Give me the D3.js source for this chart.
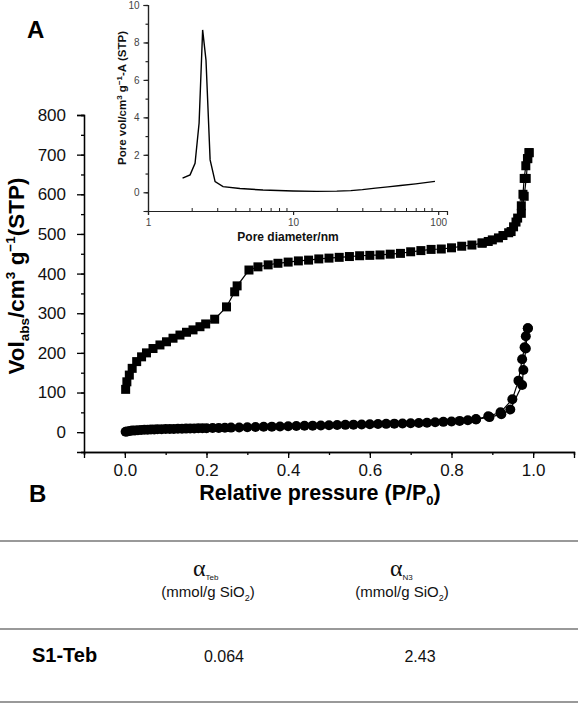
<!DOCTYPE html>
<html><head><meta charset="utf-8">
<script src="https://cdn.jsdelivr.net/npm/d3@7"></script>
<style>
html,body{margin:0;padding:0;background:#fff;}
svg{display:block;font-family:"Liberation Sans",Arial,sans-serif;}
</style></head>
<body>
<svg id="c" width="578" height="704"></svg>
<script>
// ---- Main isotherm data: [relative pressure, volume adsorbed] ----
const squaresAds = [[0.002,108],[0.005,127],[0.011,144],[0.018,161],[0.029,178],[0.041,190],[0.053,200],[0.069,211],[0.086,220],[0.102,228],[0.118,237],[0.135,245],[0.151,252],[0.167,258],[0.184,266],[0.198,273],[0.22,285],[0.249,316],[0.269,354],[0.275,369],[0.304,409],[0.326,417],[0.351,422],[0.375,426],[0.40,429],[0.425,432],[0.45,434],[0.475,437],[0.50,439],[0.525,441],[0.55,443],[0.575,445],[0.60,446],[0.625,447],[0.65,449],[0.675,451],[0.70,455],[0.725,458],[0.75,461],[0.775,462],[0.80,465],[0.825,469],[0.85,472],[0.875,477],[0.90,485],[0.926,496],[0.946,506],[0.958,530],[0.971,552],[0.978,595],[0.983,640],[0.987,690],[0.99,705]];
const squaresDes = [[0.99,705],[0.986,690],[0.982,672],[0.978,640],[0.975,600],[0.971,571],[0.962,540],[0.952,518],[0.94,503],[0.915,490],[0.89,481],[0.875,477]];
const circlesAds = [[0.002,1],[0.006,2],[0.012,3],[0.018,4],[0.025,4.5],[0.032,5],[0.04,5.5],[0.048,6],[0.056,6.3],[0.064,6.6],[0.072,7],[0.08,7.2],[0.09,7.5],[0.10,7.8],[0.11,8],[0.12,8.3],[0.13,8.5],[0.14,8.8],[0.15,9],[0.16,9.2],[0.17,9.5],[0.18,9.7],[0.19,10],[0.20,10.2],[0.215,10.5],[0.23,10.8],[0.245,11.2],[0.26,11.5],[0.28,12],[0.30,12.5],[0.32,13],[0.34,13.5],[0.36,14],[0.38,14.5],[0.40,15],[0.42,15.5],[0.44,16],[0.46,16.5],[0.48,17],[0.50,17.5],[0.52,18],[0.54,18.5],[0.56,19],[0.58,19.5],[0.60,20],[0.62,20.5],[0.64,21],[0.66,21.5],[0.68,22],[0.70,22.5],[0.72,23.2],[0.74,24],[0.76,25],[0.78,26],[0.80,27],[0.82,28.5],[0.84,30],[0.86,32],[0.893,38],[0.922,45],[0.944,57],[0.973,119],[0.976,157],[0.982,211],[0.987,262]];
const circlesDes = [[0.987,262],[0.982,242],[0.979,214],[0.973,184],[0.964,130],[0.949,83],[0.92,50],[0.89,40],[0.86,33]];
const xTicks = [0.0,0.2,0.4,0.6,0.8,1.0];
const yTicks = [0,100,200,300,400,500,600,700,800];

// ---- Inset pore size distribution ----
const poreDiameter = [1.73,1.95,2.11,2.25,2.38,2.51,2.68,2.9,3.29,4.3,6.2,10,14.5,20,25,30,37,45,55,70,95];
const poreVolume   = [0.75,0.93,1.55,3.7,8.67,7.06,1.73,0.57,0.3,0.2,0.12,0.07,0.05,0.06,0.09,0.14,0.22,0.29,0.36,0.45,0.58];
const insetXTicks = [1,10,100];
const insetYTicks = [0,2,4,6,8,10];

// ---- Table ----
const tableRowLabel = "S1-Teb";
const tableValues = ["0.064","2.43"];

const svg = d3.select("#c");

// Main scales
const x = d3.scaleLinear().domain([-0.1,1.1]).range([84,574]);
const y = d3.scaleLinear().domain([-50,800]).range([452,115]);

const gx = svg.append("g").attr("transform","translate(0,452)");
gx.call(d3.axisBottom(x).tickValues(d3.range(-0.1,1.11,0.1)).tickSize(3).tickFormat(""));
gx.append("g").call(d3.axisBottom(x).tickValues(xTicks).tickSize(6).tickPadding(6).tickFormat(d3.format(".1f")));
gx.selectAll("path.domain").attr("stroke","#000").attr("stroke-width",1.3);
gx.selectAll("line").attr("stroke","#000").attr("stroke-width",1.3);
gx.selectAll("text").attr("font-size",17).attr("fill","#111").attr("font-family","Liberation Sans, Arial");

const gy = svg.append("g").attr("transform","translate(84,0)");
gy.call(d3.axisLeft(y).tickValues(d3.range(-50,801,50)).tickSize(3).tickFormat(""));
gy.append("g").call(d3.axisLeft(y).tickValues(yTicks).tickSize(7).tickPadding(11).tickFormat(d3.format("d")));
gy.selectAll("path.domain").attr("stroke","#000").attr("stroke-width",1.3);
gy.selectAll("line").attr("stroke","#000").attr("stroke-width",1.3);
gy.selectAll("text").attr("font-size",17).attr("fill","#111").attr("font-family","Liberation Sans, Arial");

const line = d3.line().x(d=>x(d[0])).y(d=>y(d[1]));
[squaresAds,squaresDes,circlesAds,circlesDes].forEach(s=>{
  svg.append("path").attr("d",line(s)).attr("fill","none").attr("stroke","#000").attr("stroke-width",1.2);
});
const sq = 9;
svg.append("g").selectAll("rect").data(squaresAds.concat(squaresDes)).join("rect")
  .attr("x",d=>x(d[0])-sq/2).attr("y",d=>y(d[1])-sq/2).attr("width",sq).attr("height",sq).attr("fill","#000");
svg.append("g").selectAll("circle").data(circlesAds.concat(circlesDes)).join("circle")
  .attr("cx",d=>x(d[0])).attr("cy",d=>y(d[1])).attr("r",5).attr("fill","#000");

// Axis titles
const xt = svg.append("text").attr("x",320).attr("y",500).attr("text-anchor","middle")
  .attr("font-size",21.5).attr("font-weight","bold").attr("fill","#000");
xt.append("tspan").text("Relative pressure (P/P");
xt.append("tspan").text("0").attr("font-size",13).attr("dy",5);
xt.append("tspan").text(")").attr("dy",-5);

const yt = svg.append("text").attr("transform","translate(24,276) rotate(-90)").attr("text-anchor","middle")
  .attr("font-size",22.5).attr("font-weight","bold").attr("fill","#000");
yt.append("tspan").text("Vol");
yt.append("tspan").text("abs").attr("font-size",13.5).attr("dy",5);
yt.append("tspan").text("/cm").attr("dy",-5);
yt.append("tspan").text("3").attr("font-size",13.5).attr("dy",-9);
yt.append("tspan").text(" g").attr("dy",9);
yt.append("tspan").text("−1").attr("font-size",13.5).attr("dy",-9);
yt.append("tspan").text("(STP)").attr("dy",9);

// Panel labels
svg.append("text").attr("x",27).attr("y",38).text("A").attr("font-size",24).attr("font-weight","bold");
svg.append("text").attr("x",29).attr("y",502).text("B").attr("font-size",24).attr("font-weight","bold");

// ---- Inset ----
const xi = d3.scaleLog().domain([1,115]).range([148,447]);
const yi = d3.scaleLinear().domain([-1,10]).range([211,5]);
const minorLog = [2,3,4,5,6,7,8,9,20,30,40,50,60,70,80,90];
const gix = svg.append("g").attr("transform","translate(0,211)");
gix.call(d3.axisTop(xi).tickValues(minorLog).tickSize(3).tickFormat(""));
gix.selectAll("path.domain").remove();
const gix2 = svg.append("g").attr("transform","translate(0,211)");
gix2.call(d3.axisBottom(xi).tickValues(insetXTicks).tickSize(4).tickPadding(4).tickFormat(d3.format("d")));
gix.selectAll("line").attr("stroke","#222");
gix2.selectAll("path.domain,line").attr("stroke","#222").attr("stroke-width",1.2);
gix2.selectAll("text").attr("font-size",10).attr("fill","#444").attr("font-family","Liberation Sans, Arial");

const giy = svg.append("g").attr("transform","translate(148,0)");
giy.call(d3.axisLeft(yi).tickValues(d3.range(-1,10.1,1)).tickSize(2.5).tickFormat(""));
giy.append("g").call(d3.axisLeft(yi).tickValues(insetYTicks).tickSize(4.5).tickPadding(4).tickFormat(d3.format("d")));
giy.selectAll("path.domain,line").attr("stroke","#222").attr("stroke-width",1.2);
giy.selectAll("text").attr("font-size",10).attr("fill","#444").attr("font-family","Liberation Sans, Arial");

const poreData = poreDiameter.map((d,i)=>[d,poreVolume[i]]);
svg.append("path").attr("d",d3.line().x(d=>xi(d[0])).y(d=>yi(d[1]))(poreData))
  .attr("fill","none").attr("stroke","#000").attr("stroke-width",1.4);

svg.append("text").attr("x",288).attr("y",241).attr("text-anchor","middle")
  .attr("font-size",12).attr("font-weight","bold").attr("fill","#111").text("Pore diameter/nm");
const iyt = svg.append("text").attr("transform","translate(126,98) rotate(-90)").attr("text-anchor","middle")
  .attr("font-size",11.5).attr("font-weight","bold").attr("fill","#111");
iyt.append("tspan").text("Pore vol/cm");
iyt.append("tspan").text("3").attr("font-size",8).attr("dy",-4);
iyt.append("tspan").text(" g").attr("dy",4);
iyt.append("tspan").text("−1").attr("font-size",8).attr("dy",-4);
iyt.append("tspan").text("-A (STP)").attr("dy",4);

// ---- Table ----
[541,629,702].forEach(yy=>{
  svg.append("line").attr("x1",0).attr("x2",578).attr("y1",yy).attr("y2",yy)
    .attr("stroke","#999").attr("stroke-width",2);
});
const headers = [{x:193, sub:"Teb", cx:208},{x:390, sub:"N3", cx:402}];
headers.forEach(h=>{
  const t = svg.append("text").attr("x",h.x).attr("y",576).attr("fill","#111");
  t.append("tspan").text("α").attr("font-family","Liberation Serif, Times New Roman, serif").attr("font-size",24);
  t.append("tspan").text(h.sub).attr("font-size",8).attr("dy",4);
  const u = svg.append("text").attr("x",h.cx).attr("y",597).attr("text-anchor","middle").attr("font-size",15).attr("fill","#111");
  u.append("tspan").text("(mmol/g SiO");
  u.append("tspan").text("2").attr("font-size",9).attr("dy",4);
  u.append("tspan").text(")").attr("dy",-4);
});
svg.append("text").attr("x",32).attr("y",662).attr("font-size",20).attr("font-weight","bold").text(tableRowLabel);
const valX = [224,420];
tableValues.forEach((v,i)=>{
  svg.append("text").attr("x",valX[i]).attr("y",662).attr("text-anchor","middle").attr("font-size",16).attr("fill","#111").text(v);
});
</script>
</body></html>
